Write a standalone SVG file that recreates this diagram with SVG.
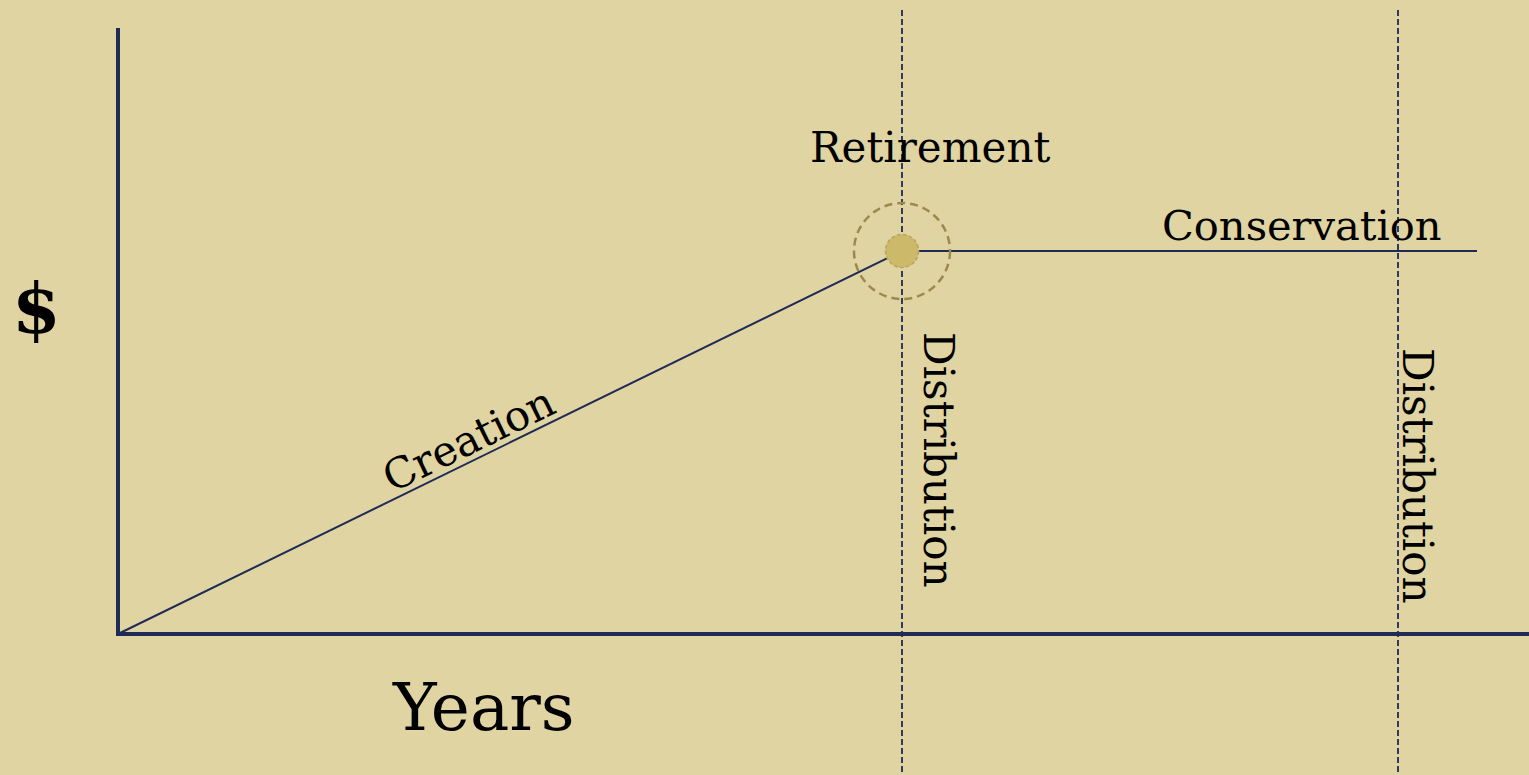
<svg xmlns="http://www.w3.org/2000/svg" width="1529" height="775" viewBox="0 0 1529 775">
<style>
.t{font-family:"DejaVu Serif","Liberation Serif",serif;fill:#000;}
.axis{stroke:#1E2B55;stroke-width:4;fill:none;}
.line{stroke:#1E2B55;stroke-width:2;fill:none;}
.dash{stroke:#1E2B55;stroke-width:1.8;stroke-dasharray:6 3;fill:none;}
</style>
<rect width="1529" height="775" fill="#E0D4A3"/>
<g id="connectors">
<line class="dash" x1="902" y1="10" x2="902" y2="775"/>
<line class="dash" x1="1398" y1="10" x2="1398" y2="775"/>
<line class="axis" x1="118" y1="28" x2="118" y2="636"/>
<line class="axis" x1="116" y1="634" x2="1529" y2="634"/>
<line class="line" x1="118" y1="634" x2="902" y2="251"/>
<line class="line" x1="902" y1="251" x2="1477" y2="251"/>
</g>
<g id="retirement">
<circle cx="902" cy="251" r="48" fill="none" stroke="#9A8A50" stroke-width="2.5" stroke-dasharray="8 5"/>
<circle cx="902" cy="251" r="16.5" fill="#CDB96A" stroke="#B8A560" stroke-width="1.5" stroke-dasharray="4 2"/>
<text class="t" x="810" y="162" font-size="42">Retirement</text>
</g>
<g id="labels">
<text class="t" x="1162" y="240" font-size="41.6">Conservation</text>
<text class="t" x="12" y="333" font-size="70" font-weight="bold">$</text>
<text class="t" x="393" y="730" font-size="66">Years</text>
<text class="t" font-size="42" transform="translate(392,493) rotate(-26.04)">Creation</text>
<text class="t" font-size="42" transform="translate(924,332) rotate(90)">Distribution</text>
<text class="t" font-size="42" transform="translate(1403,348) rotate(90)">Distribution</text>
</g>
</svg>
